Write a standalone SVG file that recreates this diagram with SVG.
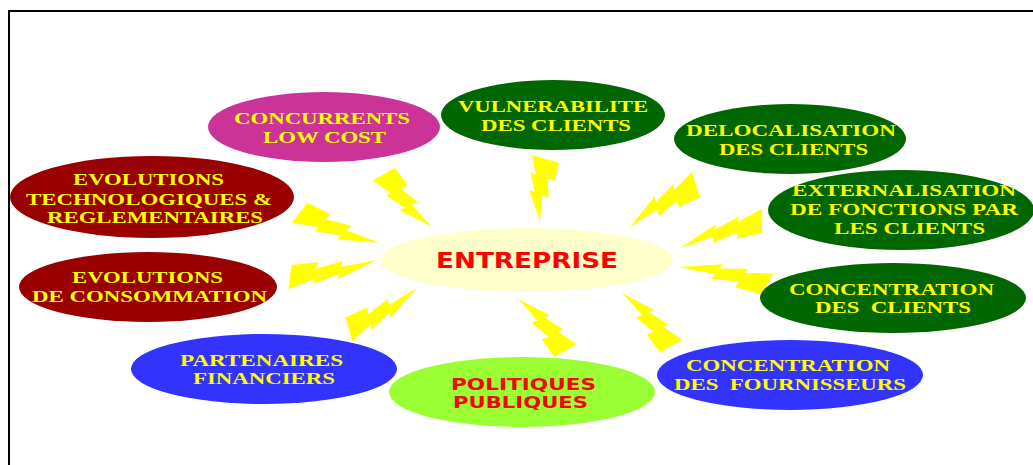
<svg xmlns="http://www.w3.org/2000/svg" width="1033" height="465" viewBox="0 0 1033 465">
<style>
.lbl{font-family:"Liberation Serif","Times New Roman",serif;font-weight:bold;font-size:17px;fill:#FFFF00;text-anchor:middle;white-space:pre}
.red{font-family:"DejaVu Sans",Verdana,sans-serif;font-weight:bold;fill:#FF0000;text-anchor:middle}
.bolt{fill:#FFFF00}
</style>
<defs>
<path id="bolt" d="M-3,12 L19,7 L17,12 L39,6.6 L37,11.7 L71,0 L41.5,0 L44,-6 L21.7,-3 L24.5,-9.4 L3,-12 Z"/>
</defs>
<rect x="9" y="11" width="1100" height="500" fill="none" stroke="#000" stroke-width="2"/>
<g id="connectors" class="bolt">
<use href="#bolt" transform="translate(383.8,174.3) rotate(47.6) scale(1,1.05)"/>
<use href="#bolt" transform="translate(299.7,212.7) rotate(20.7) scale(1.2,1)"/>
<use href="#bolt" transform="translate(545.5,159) rotate(95.1) scale(0.876,1.15)"/>
<use href="#bolt" transform="translate(696,184.5) rotate(147.2) scale(1.106,1.05)"/>
<use href="#bolt" transform="translate(762,221) rotate(161.8) scale(1.215,0.95)"/>
<use href="#bolt" transform="translate(767.5,284) rotate(190.8) scale(1.283,0.95)"/>
<use href="#bolt" transform="translate(290,277) rotate(-11.1) scale(1.248,0.95)"/>
<use href="#bolt" transform="translate(349,329.5) rotate(-31.4) scale(1.122,1)"/>
<use href="#bolt" transform="translate(565.5,350.5) rotate(-132.7) scale(0.987,1.05)"/>
<use href="#bolt" transform="translate(671,346) rotate(-132.8) scale(1.017,1.05)"/>
</g>
<g id="concurrents">
<ellipse cx="324" cy="127" rx="116" ry="35" fill="#CC3399"/>
<text class="lbl" x="322" y="124" textLength="176" lengthAdjust="spacingAndGlyphs">CONCURRENTS</text>
<text class="lbl" x="324.5" y="143" textLength="123" lengthAdjust="spacingAndGlyphs">LOW COST</text>
</g>
<g id="vulnerabilite">
<ellipse cx="553" cy="115" rx="112" ry="35" fill="#006600"/>
<text class="lbl" x="553" y="112" textLength="190" lengthAdjust="spacingAndGlyphs">VULNERABILITE</text>
<text class="lbl" x="556" y="131" textLength="150" lengthAdjust="spacingAndGlyphs">DES CLIENTS</text>
</g>
<g id="delocalisation">
<ellipse cx="790" cy="139" rx="116" ry="35" fill="#006600"/>
<text class="lbl" x="791" y="136" textLength="210" lengthAdjust="spacingAndGlyphs">DELOCALISATION</text>
<text class="lbl" x="793.5" y="155" textLength="149" lengthAdjust="spacingAndGlyphs">DES CLIENTS</text>
</g>
<g id="externalisation">
<ellipse cx="901" cy="210" rx="133" ry="40" fill="#006600"/>
<text class="lbl" x="904" y="196" textLength="224" lengthAdjust="spacingAndGlyphs">EXTERNALISATION</text>
<text class="lbl" x="904" y="215" textLength="228" lengthAdjust="spacingAndGlyphs">DE FONCTIONS PAR</text>
<text class="lbl" x="909.5" y="234" textLength="151" lengthAdjust="spacingAndGlyphs">LES CLIENTS</text>
</g>
<g id="concentration-clients">
<ellipse cx="893" cy="298" rx="133" ry="35" fill="#006600"/>
<text class="lbl" x="891.5" y="295" textLength="205" lengthAdjust="spacingAndGlyphs">CONCENTRATION</text>
<text class="lbl" x="893" y="313" textLength="156" lengthAdjust="spacingAndGlyphs">DES  CLIENTS</text>
</g>
<g id="evolutions-techno">
<ellipse cx="152" cy="197" rx="142" ry="41" fill="#990000"/>
<text class="lbl" x="148.5" y="185" textLength="151" lengthAdjust="spacingAndGlyphs">EVOLUTIONS</text>
<text class="lbl" x="149" y="205" textLength="246" lengthAdjust="spacingAndGlyphs">TECHNOLOGIQUES &amp;</text>
<text class="lbl" x="155" y="223" textLength="216" lengthAdjust="spacingAndGlyphs">REGLEMENTAIRES</text>
</g>
<g id="evolutions-conso">
<ellipse cx="148" cy="287" rx="129" ry="35" fill="#990000"/>
<text class="lbl" x="147.5" y="283" textLength="151" lengthAdjust="spacingAndGlyphs">EVOLUTIONS</text>
<text class="lbl" x="149.5" y="302" textLength="235" lengthAdjust="spacingAndGlyphs">DE CONSOMMATION</text>
</g>
<g id="entreprise">
<ellipse cx="527" cy="260" rx="146" ry="32" fill="#FFFFCC"/>
<text class="red" x="527" y="268" font-size="21" textLength="182" lengthAdjust="spacingAndGlyphs">ENTREPRISE</text>
</g>
<g id="partenaires">
<ellipse cx="264" cy="369" rx="133" ry="35" fill="#3333FF"/>
<text class="lbl" x="261.5" y="366" textLength="163" lengthAdjust="spacingAndGlyphs">PARTENAIRES</text>
<text class="lbl" x="264" y="384" textLength="142" lengthAdjust="spacingAndGlyphs">FINANCIERS</text>
</g>
<g id="politiques">
<ellipse cx="522" cy="392" rx="133" ry="35" fill="#99FF33"/>
<text class="red" x="523.5" y="390" font-size="16" textLength="145" lengthAdjust="spacingAndGlyphs">POLITIQUES</text>
<text class="red" x="520.5" y="408" font-size="16" textLength="135" lengthAdjust="spacingAndGlyphs">PUBLIQUES</text>
</g>
<g id="concentration-fournisseurs">
<ellipse cx="790" cy="375" rx="133" ry="35" fill="#3333FF"/>
<text class="lbl" x="788" y="371" textLength="204" lengthAdjust="spacingAndGlyphs">CONCENTRATION</text>
<text class="lbl" x="790" y="390" textLength="232" lengthAdjust="spacingAndGlyphs">DES  FOURNISSEURS</text>
</g>
</svg>
